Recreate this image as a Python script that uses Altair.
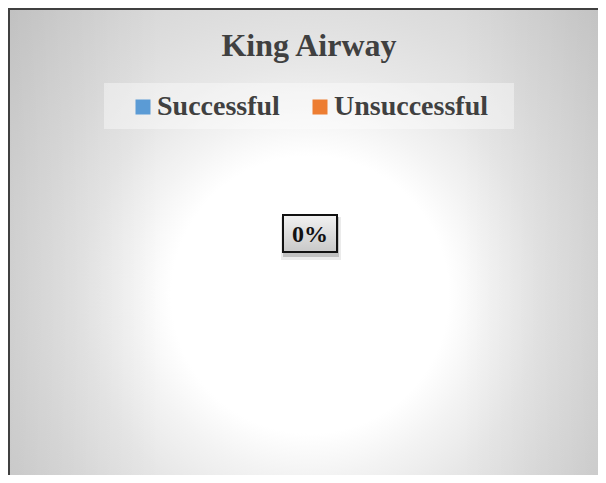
import altair as alt
import pandas as pd

# ---- data ----
categories = ["Successful", "Unsuccessful"]
values = [0, 0]
colors = ["#5b9bd5", "#ed7d31"]
title_text = "King Airway"

total = sum(values)
pct = round(values[0] / total * 100) if total else 0
label_text = f"{pct}%"

W, H = 590, 467
SERIF = "Liberation Serif"

pie_df = pd.DataFrame({"category": categories, "value": values})
one = pd.DataFrame({"k": [0]})
lbl_df = pd.DataFrame({"label": [label_text]})
ttl_df = pd.DataFrame({"t": [title_text]})

# radial background gradient (Excel-like)
radial = alt.RadialGradient(
    gradient="radial",
    x1=0.4306, y1=0.409, r1=0,
    x2=0.4306, y2=0.409, r2=0.601,
    stops=[
        alt.GradientStop(offset=0.0, color="#ffffff"),
        alt.GradientStop(offset=0.33, color="#ffffff"),
        alt.GradientStop(offset=0.43, color="#f3f3f3"),
        alt.GradientStop(offset=0.55, color="#e7e7e7"),
        alt.GradientStop(offset=0.683, color="#dedede"),
        alt.GradientStop(offset=1.0, color="#cccccc"),
    ],
)
bg = alt.Chart(one).mark_rect(
    fill=radial, stroke="#404040", strokeWidth=2
).encode(
    x=alt.value(1), x2=alt.value(700), y=alt.value(1), y2=alt.value(700)
)

side = alt.LinearGradient(
    gradient="linear", x1=0, y1=0, x2=1, y2=0,
    stops=[
        alt.GradientStop(offset=0.0, color="rgba(0,0,0,0.06)"),
        alt.GradientStop(offset=0.25, color="rgba(0,0,0,0)"),
        alt.GradientStop(offset=0.75, color="rgba(0,0,0,0)"),
        alt.GradientStop(offset=1.0, color="rgba(0,0,0,0.06)"),
    ],
)
overlay = alt.Chart(one).mark_rect(fill=side).encode(
    x=alt.value(2), x2=alt.value(604), y=alt.value(2), y2=alt.value(700)
)

legend_bg = alt.Chart(one).mark_rect(fill="white", opacity=0.4).encode(
    x=alt.value(96), x2=alt.value(506), y=alt.value(75), y2=alt.value(121)
)

pie = alt.Chart(pie_df).mark_arc().encode(
    theta=alt.Theta("value:Q", stack=True),
    color=alt.Color(
        "category:N",
        scale=alt.Scale(domain=categories, range=colors),
        sort=categories,
        legend=alt.Legend(
            title=None,
            orient="none",
            legendX=121,
            legendY=85,
            direction="horizontal",
            symbolType="square",
            symbolSize=225,
            symbolStrokeWidth=0,
            labelFont=SERIF,
            labelFontSize=28,
            labelFontWeight="bold",
            labelColor="#404040",
            labelOffset=0,
            columnPadding=26,
            padding=0,
        ),
    ),
)

shadow = alt.Chart(one).mark_rect(fill="black", opacity=0.18).encode(
    x=alt.value(275), x2=alt.value(331), y=alt.value(209), y2=alt.value(249)
)
shadow2 = alt.Chart(one).mark_rect(fill="black", opacity=0.08).encode(
    x=alt.value(273), x2=alt.value(333), y=alt.value(209), y2=alt.value(252)
)
box_grad = alt.LinearGradient(
    gradient="linear", x1=0, y1=0, x2=0, y2=1,
    stops=[
        alt.GradientStop(offset=0.0, color="#f2f2f2"),
        alt.GradientStop(offset=1.0, color="#c8c8c8"),
    ],
)
box = alt.Chart(one).mark_rect(fill=box_grad, stroke="#111111", strokeWidth=2).encode(
    x=alt.value(275), x2=alt.value(329), y=alt.value(207), y2=alt.value(244)
)
label = alt.Chart(lbl_df).mark_text(
    font=SERIF, fontSize=24, fontWeight="bold", color="#111111",
    align="center", baseline="alphabetic"
).encode(text="label:N", x=alt.value(302), y=alt.value(234))

title = alt.Chart(ttl_df).mark_text(
    font=SERIF, fontSize=32, fontWeight="bold", color="#404040",
    align="center", baseline="alphabetic"
).encode(text="t:N", x=alt.value(301), y=alt.value(48))

chart = alt.layer(
    bg, overlay, legend_bg, pie, shadow2, shadow, box, label, title
).properties(
    width=W, height=H, padding=0, background="white",
    autosize=alt.AutoSizeParams(type="none"),
).configure_view(stroke=None)

chart.save("out.html", embed_options={"renderer": "svg", "actions": False})
